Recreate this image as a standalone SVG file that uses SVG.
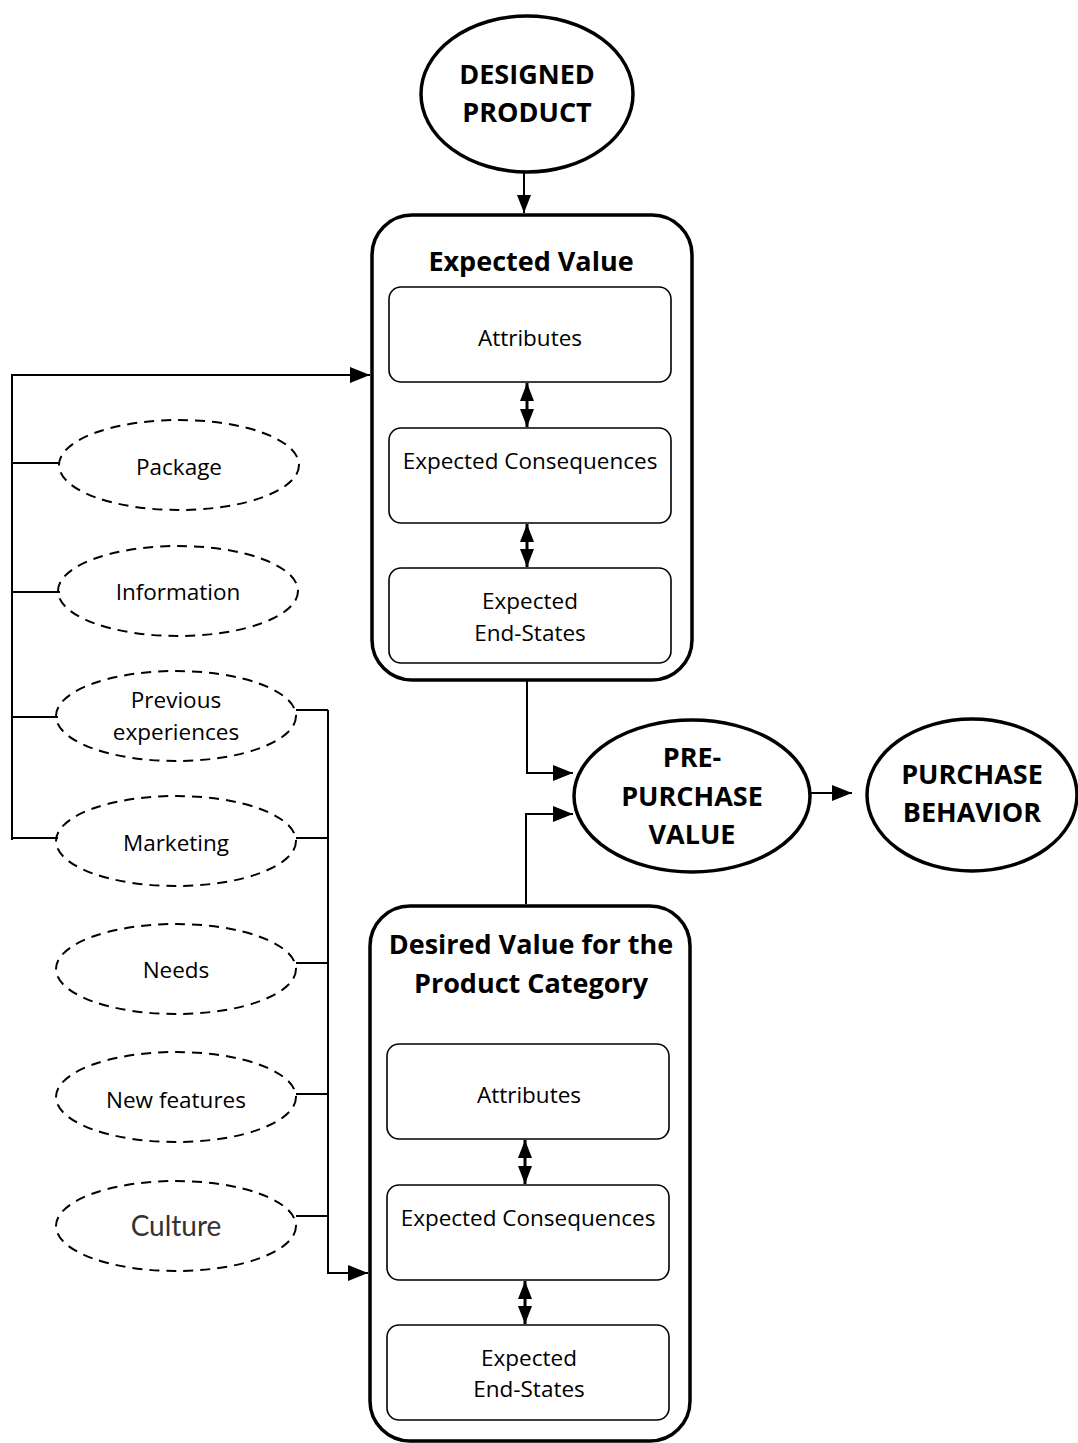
<svg xmlns="http://www.w3.org/2000/svg" width="1078" height="1443" viewBox="0 0 1078 1443">
<defs>
<marker id="a2" viewBox="0 0 20 16" refX="20" refY="8" markerWidth="20" markerHeight="16" markerUnits="userSpaceOnUse" orient="auto-start-reverse">
<path d="M0,0 L20,8 L0,16 z" fill="#000"/>
</marker>
<marker id="a3" viewBox="0 0 18 14" refX="18" refY="7" markerWidth="18" markerHeight="14" markerUnits="userSpaceOnUse" orient="auto-start-reverse">
<path d="M0,0 L18,7 L0,14 z" fill="#000"/>
</marker>
</defs>
<style>
.big{fill:#fff;stroke:#000;stroke-width:3.5}
.outer{fill:#fff;stroke:#000;stroke-width:3.5}
.inner{fill:#fff;stroke:#000;stroke-width:1.6}
.dash{fill:#fff;stroke:#000;stroke-width:2;stroke-dasharray:10 7}
.ln{fill:none;stroke:#000;stroke-width:2}
.dbl{fill:none;stroke:#000;stroke-width:3}
.bt{font-family:"Open Sans","Liberation Sans",sans-serif;font-weight:bold;font-size:27px;text-anchor:middle;fill:#000}
.t{font-family:"Open Sans","Liberation Sans",sans-serif;font-size:22.5px;text-anchor:middle;fill:#000}
.c{font-family:"Lato","Noto Sans",sans-serif;font-size:28px;text-anchor:middle;fill:#333}
</style>
<g id="designed-product">
<ellipse class="big" cx="527" cy="94" rx="106" ry="78"/>
<text class="bt" x="527" y="84">DESIGNED</text>
<text class="bt" x="527" y="122">PRODUCT</text>
</g>
<g id="expected-value">
<rect class="outer" x="372" y="215" width="320" height="465" rx="40"/>
<text class="bt" x="531" y="271">Expected Value</text>
</g>
<g id="ev-attributes">
<rect class="inner" x="389" y="287" width="282" height="95" rx="12"/>
<text class="t" x="530" y="346">Attributes</text>
</g>
<g id="ev-consequences">
<rect class="inner" x="389" y="428" width="282" height="95" rx="12"/>
<text class="t" x="530" y="469">Expected Consequences</text>
</g>
<g id="ev-endstates">
<rect class="inner" x="389" y="568" width="282" height="95" rx="12"/>
<text class="t" x="530" y="609">Expected</text>
<text class="t" x="530" y="641">End-States</text>
</g>
<g id="package">
<ellipse class="dash" cx="179" cy="465" rx="120" ry="45"/>
<text class="t" x="179" y="475">Package</text>
</g>
<g id="information">
<ellipse class="dash" cx="178" cy="591" rx="120" ry="45"/>
<text class="t" x="178" y="600">Information</text>
</g>
<g id="previous-experiences">
<ellipse class="dash" cx="176" cy="716" rx="120" ry="45"/>
<text class="t" x="176" y="708">Previous</text>
<text class="t" x="176" y="740">experiences</text>
</g>
<g id="marketing">
<ellipse class="dash" cx="176" cy="841" rx="120" ry="45"/>
<text class="t" x="176" y="851">Marketing</text>
</g>
<g id="needs">
<ellipse class="dash" cx="176" cy="969" rx="120" ry="45"/>
<text class="t" x="176" y="978">Needs</text>
</g>
<g id="new-features">
<ellipse class="dash" cx="176" cy="1097" rx="120" ry="45"/>
<text class="t" x="176" y="1108">New features</text>
</g>
<g id="culture">
<ellipse class="dash" cx="176" cy="1226" rx="120" ry="45"/>
<text class="c" x="176" y="1236">Culture</text>
</g>
<g id="pre-purchase-value">
<ellipse class="big" cx="692" cy="796" rx="118" ry="76"/>
<text class="bt" x="692" y="767">PRE-</text>
<text class="bt" x="692" y="806">PURCHASE</text>
<text class="bt" x="692" y="844">VALUE</text>
</g>
<g id="purchase-behavior">
<ellipse class="big" cx="972" cy="795" rx="105" ry="76"/>
<text class="bt" x="972" y="784">PURCHASE</text>
<text class="bt" x="972" y="822">BEHAVIOR</text>
</g>
<g id="desired-value">
<rect class="outer" x="370" y="906" width="320" height="535" rx="40"/>
<text class="bt" x="531" y="954">Desired Value for the</text>
<text class="bt" x="531" y="993">Product Category</text>
</g>
<g id="dv-attributes">
<rect class="inner" x="387" y="1044" width="282" height="95" rx="12"/>
<text class="t" x="529" y="1103">Attributes</text>
</g>
<g id="dv-consequences">
<rect class="inner" x="387" y="1185" width="282" height="95" rx="12"/>
<text class="t" x="528" y="1226">Expected Consequences</text>
</g>
<g id="dv-endstates">
<rect class="inner" x="387" y="1325" width="282" height="95" rx="12"/>
<text class="t" x="529" y="1366">Expected</text>
<text class="t" x="529" y="1397">End-States</text>
</g>
<g id="connectors">
<line class="ln" x1="524" y1="173" x2="524" y2="213" marker-end="url(#a3)"/>
<polyline class="ln" points="12,840 12,375 370,375" marker-end="url(#a2)"/>
<line class="ln" x1="12" y1="463" x2="60" y2="463"/>
<line class="ln" x1="12" y1="592" x2="60" y2="592"/>
<line class="ln" x1="12" y1="717" x2="58" y2="717"/>
<line class="ln" x1="12" y1="838" x2="58" y2="838"/>
<polyline class="ln" points="328,710 328,1273 368,1273" marker-end="url(#a2)"/>
<line class="ln" x1="296" y1="710" x2="328" y2="710"/>
<line class="ln" x1="296" y1="838" x2="328" y2="838"/>
<line class="ln" x1="296" y1="963" x2="328" y2="963"/>
<line class="ln" x1="296" y1="1094" x2="328" y2="1094"/>
<line class="ln" x1="296" y1="1216" x2="328" y2="1216"/>
<polyline class="ln" points="527,681 527,773 573,773" marker-end="url(#a2)"/>
<polyline class="ln" points="526,904 526,814 573,814" marker-end="url(#a2)"/>
<line class="ln" x1="811" y1="793" x2="852" y2="793" marker-end="url(#a2)"/>
<line class="dbl" x1="527" y1="383" x2="527" y2="427" marker-start="url(#a3)" marker-end="url(#a3)"/>
<line class="dbl" x1="527" y1="524" x2="527" y2="567" marker-start="url(#a3)" marker-end="url(#a3)"/>
<line class="dbl" x1="525" y1="1140" x2="525" y2="1184" marker-start="url(#a3)" marker-end="url(#a3)"/>
<line class="dbl" x1="525" y1="1281" x2="525" y2="1324" marker-start="url(#a3)" marker-end="url(#a3)"/>
</g>
</svg>
